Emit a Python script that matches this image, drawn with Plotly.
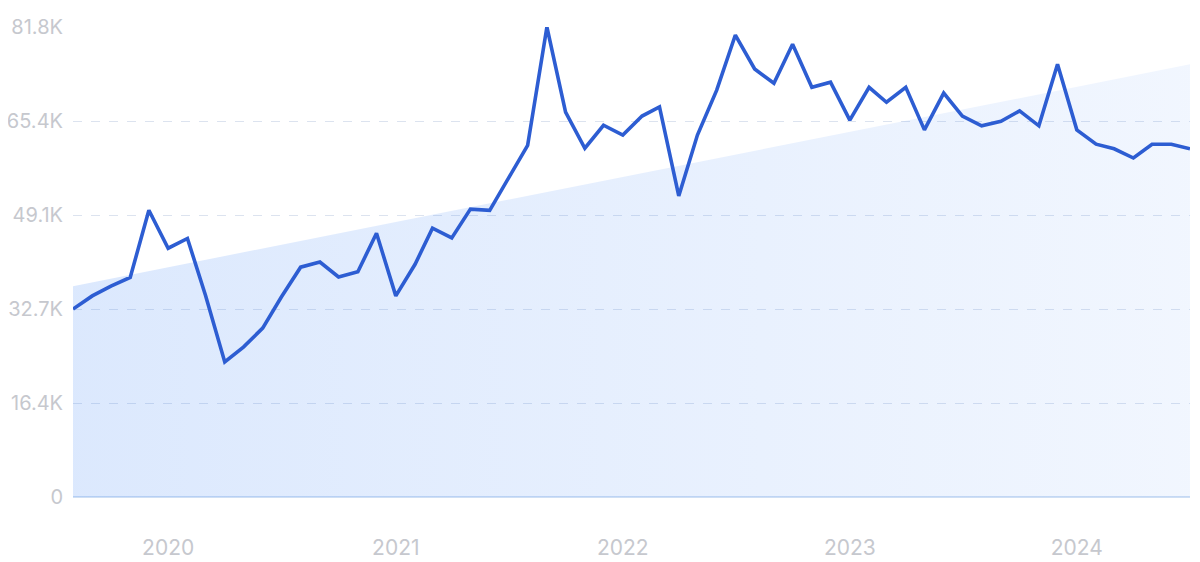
import plotly.graph_objects as go
import pandas as pd

months = pd.date_range("2019-08-01", periods=60, freq="MS")
values = [32.7, 35.0, 36.7, 38.2, 49.9, 43.3, 45.0, 35.1, 23.5, 26.1,
          29.4, 34.8, 40.0, 40.9, 38.3, 39.2, 45.9, 35.0, 40.5, 46.8,
          45.1, 50.1, 49.9, 55.5, 61.2, 81.8, 67.0, 60.7, 64.7, 63.0,
          66.3, 67.9, 52.4, 63.0, 70.8, 80.4, 74.5, 72.0, 78.8, 71.3,
          72.2, 65.6, 71.3, 68.7, 71.3, 63.9, 70.3, 66.3, 64.6, 65.4,
          67.2, 64.6, 75.3, 63.9, 61.4, 60.6, 59.0, 61.4, 61.4, 60.6]
values = [v * 1000 for v in values]
trend_x = [months[0], months[-1]]
trend_y = [36700, 75300]
tick_vals = [0, 16360, 32720, 49080, 65440, 81800]
tick_text = ["0", "16.4K", "32.7K", "49.1K", "65.4K", "81.8K"]
year_ticks = ["2020-01-01", "2021-01-01", "2022-01-01", "2023-01-01", "2024-01-01"]
year_labels = ["2020", "2021", "2022", "2023", "2024"]

fig = go.Figure()
fig.add_trace(go.Scatter(
    x=trend_x, y=trend_y, mode="lines", line=dict(width=0),
    fill="tozeroy",
    fillgradient=dict(type="horizontal",
                      colorscale=[[0, "rgba(59,130,246,0.18)"], [1, "rgba(59,130,246,0.07)"]]),
    hoverinfo="skip", showlegend=False))
fig.add_trace(go.Scatter(
    x=months, y=values, mode="lines",
    line=dict(color="#2d5dd2", width=3.6), showlegend=False))

fig.update_layout(
    width=1200, height=562,
    margin=dict(l=65, r=18, t=19, b=73),
    paper_bgcolor="white", plot_bgcolor="white",
    font=dict(family="Inter, Roboto, sans-serif", color="#c6c8ce", size=20),
)
fig.update_xaxes(
    range=[months[0], months[-1]], tickvals=year_ticks, ticktext=year_labels,
    showgrid=False, zeroline=False, showline=False, ticks="", automargin=False,
    ticklabelstandoff=36, tickfont=dict(size=21, color="#c6c8ce"))
fig.update_yaxes(
    range=[0, 81800], tickvals=tick_vals, ticktext=tick_text, automargin=False,
    showgrid=True, gridcolor="#dce3ef", griddash="dash", gridwidth=1,
    zeroline=True, zerolinecolor="#cfdff4", zerolinewidth=2,
    ticks="", ticklabelstandoff=9, tickfont=dict(size=20, color="#c6c8ce"))

fig.write_html("out.html")
